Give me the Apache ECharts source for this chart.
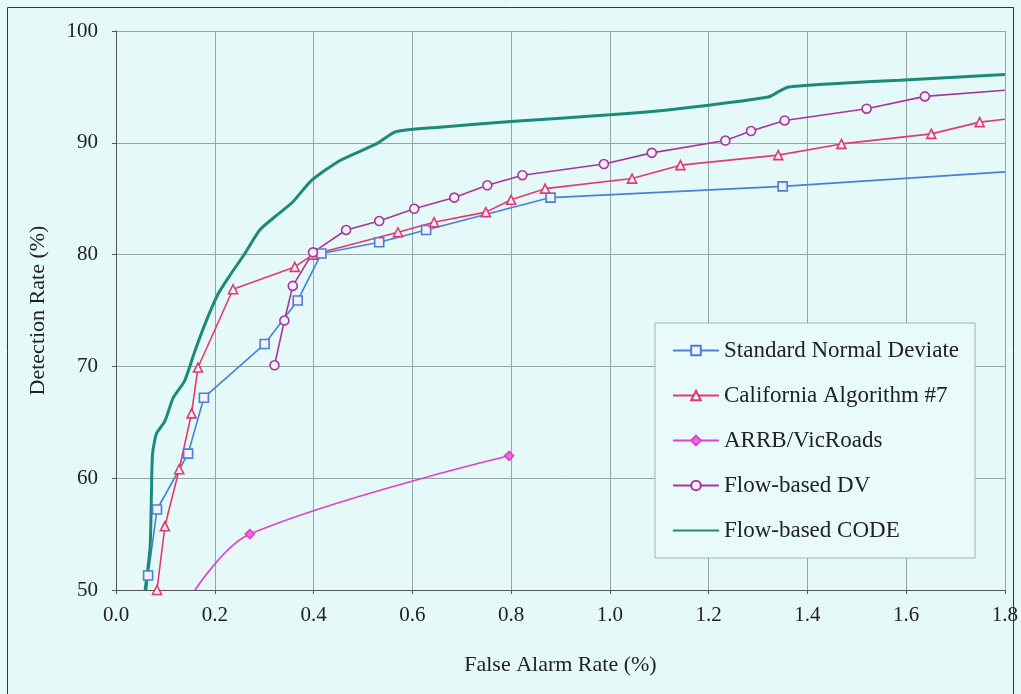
<!DOCTYPE html>
<html>
<head>
<meta charset="utf-8">
<script src="https://cdn.jsdelivr.net/npm/echarts@6/dist/echarts.min.js"></script>
<style>
  html, body { margin: 0; padding: 0; background: #e4f9f8; }
  #chart { width: 1021px; height: 694px; }
</style>
</head>
<body>
<div id="chart"></div>
<script>
// false alarm rate (%) / detection rate (%) per algorithm
const sndFar  = [0.062, 0.065, 0.083, 0.146, 0.178, 0.301, 0.368, 0.416, 0.533, 0.628, 0.88, 1.35, 1.8]
const sndDr   = [50.0, 51.3, 57.2, 62.2, 67.2, 72.0, 75.9, 80.1, 81.1, 82.2, 85.1, 86.1, 87.4]

const calFar  = [0.083, 0.099, 0.128, 0.153, 0.166, 0.237, 0.362, 0.399, 0.571, 0.644, 0.749, 0.80, 0.869, 1.045, 1.143, 1.341, 1.469, 1.651, 1.749, 1.8]
const calDr   = [50.0, 55.7, 60.8, 65.8, 69.9, 76.9, 78.9, 80.0, 82.0, 82.9, 83.8, 84.9, 85.9, 86.8, 88.0, 88.9, 89.9, 90.8, 91.85, 92.1]

const arrbFar = [0.16, 0.271, 0.796]
const arrbDr  = [50.0, 55.0, 62.0]

const dvFar   = [0.321, 0.341, 0.358, 0.399, 0.466, 0.533, 0.604, 0.685, 0.752, 0.823, 0.988, 1.085, 1.234, 1.286, 1.354, 1.52, 1.638, 1.8]
const dvDr    = [70.1, 74.1, 77.2, 80.2, 82.2, 83.0, 84.1, 85.1, 86.2, 87.1, 88.1, 89.1, 90.2, 91.05, 92.0, 93.05, 94.15, 94.7]

const codeFar = [0.059, 0.069, 0.072, 0.074, 0.082, 0.099, 0.116, 0.139, 0.16, 0.183, 0.207, 0.23, 0.261, 0.291, 0.325, 0.358, 0.395, 0.453, 0.527, 0.567, 0.655, 0.8, 1.0, 1.139, 1.321, 1.341, 1.362, 1.476, 1.587, 1.8]
const codeDr  = [50.0, 53.8, 59.2, 62.2, 64.0, 65.1, 67.2, 68.7, 71.4, 74.1, 76.5, 78.1, 80.1, 82.2, 83.5, 84.7, 86.6, 88.4, 89.9, 91.0, 91.4, 91.9, 92.5, 93.05, 94.1, 94.55, 95.0, 95.35, 95.6, 96.1]

const xTicks = ['0.0', '0.2', '0.4', '0.6', '0.8', '1.0', '1.2', '1.4', '1.6', '1.8']

// indices drawn without a marker (line ends that run off the plot)
function pts(xs, ys, bare) {
  return xs.map((x, i) => bare.includes(i)
    ? { value: [x, ys[i]], symbol: 'none' }
    : [x, ys[i]])
}

const serif = 'Liberation Serif'
const chart = echarts.init(document.getElementById('chart'))

function lineSeries(name, data, color, symbol, extra) {
  return Object.assign({
    name, type: 'line', data,
    symbol, symbolSize: 9,
    lineStyle: { color, width: 1.6 },
    itemStyle: { color: '#f4f0fa', borderColor: color, borderWidth: 1.6 },
    color,
    z: 3
  }, extra || {})
}

chart.setOption({
  backgroundColor: '#e4f9f8',
  animation: false,
  textStyle: { fontFamily: serif },
  graphic: [{
    type: 'rect', shape: { x: 7.5, y: 7.5, width: 1006, height: 700 },
    style: { fill: 'none', stroke: '#333', lineWidth: 1 }, silent: true
  }],
  grid: { left: 116, right: 14, top: 31, bottom: 104 },
  legend: {
    orient: 'vertical', left: 655, top: 323,
    padding: [16, 16, 16, 17],
    itemWidth: 46, itemHeight: 12, itemGap: 22,
    backgroundColor: '#e8fbfa', borderColor: '#9fb8b4', borderWidth: 1,
    textStyle: { fontFamily: serif, fontSize: 23, color: '#222' },
    data: [
      'Standard Normal Deviate', 'California Algorithm #7', 'ARRB/VicRoads', 'Flow-based DV',
      { name: 'Flow-based CODE', itemStyle: { opacity: 0 } }
    ]
  },
  xAxis: {
    type: 'value', min: 0, max: 1.8, interval: 0.2,
    name: 'False Alarm Rate (%)', nameLocation: 'middle', nameGap: 64,
    nameTextStyle: { fontFamily: serif, fontSize: 22, color: '#222' },
    axisLine: { lineStyle: { color: '#555', width: 1 } },
    axisTick: { show: true, length: 4, lineStyle: { color: '#555' } },
    axisLabel: { fontFamily: serif, fontSize: 21, color: '#222', margin: 15,
      formatter: v => xTicks[Math.round(v / 0.2)] },
    splitLine: { show: true, lineStyle: { color: '#8fa8a3', width: 1 } }
  },
  yAxis: {
    type: 'value', min: 50, max: 100, interval: 10,
    name: 'Detection Rate (%)', nameLocation: 'middle', nameGap: 67,
    nameTextStyle: { fontFamily: serif, fontSize: 22, color: '#222' },
    axisLine: { show: true, lineStyle: { color: '#555', width: 1 } },
    axisTick: { show: true, length: 4, lineStyle: { color: '#555' } },
    axisLabel: { fontFamily: serif, fontSize: 21, color: '#222', margin: 18 },
    splitLine: { show: true, lineStyle: { color: '#8fa8a3', width: 1 } }
  },
  series: [
    lineSeries('Standard Normal Deviate', pts(sndFar, sndDr, [0, sndFar.length - 1]), '#4a7fd6', 'rect'),
    lineSeries('California Algorithm #7', pts(calFar, calDr, [calFar.length - 1]), '#e23a6e', 'triangle'),
    lineSeries('ARRB/VicRoads', pts(arrbFar, arrbDr, [0]), '#e040cc', 'diamond', {
      smooth: 0.35,
      itemStyle: { color: '#ea6fd8', borderColor: '#e040cc', borderWidth: 1.6 }
    }),
    lineSeries('Flow-based DV', pts(dvFar, dvDr, [dvFar.length - 1]), '#a8359e', 'circle'),
    lineSeries('Flow-based CODE', pts(codeFar, codeDr, []), '#1c8a78', 'none', {
      showSymbol: false, smooth: 0.2,
      lineStyle: { color: '#1c8a78', width: 3 }
    })
  ]
})
</script>
</body>
</html>
